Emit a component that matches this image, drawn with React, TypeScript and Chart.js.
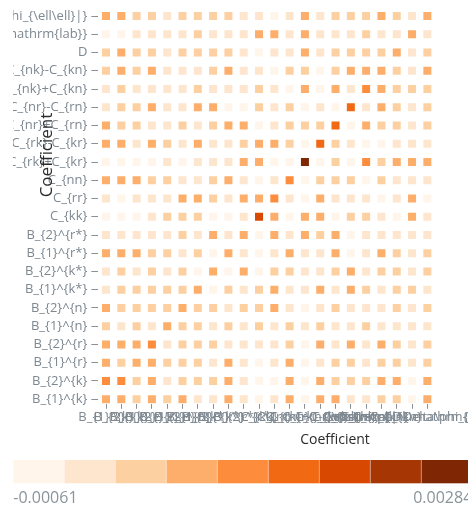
import React, { useEffect, useRef } from "react";
import { Chart, registerables } from "chart.js";

Chart.register(...registerables);

// Row labels, top to bottom
const yLabels: string[] = [
  "\\mathrm{|\\Delta\\phi_{\\ell\\ell}|}",
  "\\cos\\varphi^{\\mathrm{lab}}",
  "D",
  "C_{nk}-C_{kn}",
  "C_{nk}+C_{kn}",
  "C_{nr}-C_{rn}",
  "C_{nr}+C_{rn}",
  "C_{rk}-C_{kr}",
  "C_{rk}+C_{kr}",
  "C_{nn}",
  "C_{rr}",
  "C_{kk}",
  "B_{2}^{r*}",
  "B_{1}^{r*}",
  "B_{2}^{k*}",
  "B_{1}^{k*}",
  "B_{2}^{n}",
  "B_{1}^{n}",
  "B_{2}^{r}",
  "B_{1}^{r}",
  "B_{2}^{k}",
  "B_{1}^{k}",
];

// Column labels, left to right
const xLabels: string[] = [
  "B_{1}^{k}",
  "B_{2}^{k}",
  "B_{1}^{r}",
  "B_{2}^{r}",
  "B_{1}^{n}",
  "B_{2}^{n}",
  "B_{1}^{k*}",
  "B_{2}^{k*}",
  "B_{1}^{r*}",
  "B_{2}^{r*}",
  "C_{kk}",
  "C_{rr}",
  "C_{nn}",
  "C_{rk}+C_{kr}",
  "C_{rk}-C_{kr}",
  "C_{nr}+C_{rn}",
  "C_{nr}-C_{rn}",
  "C_{nk}+C_{kn}",
  "C_{nk}-C_{kn}",
  "D",
  "\\cos\\varphi^{\\mathrm{lab}}",
  "\\mathrm{|\\Delta\\phi_{\\ell\\ell}|}",
];

// Coefficient values, one row per y label (top to bottom), columns follow xLabels
const values: number[][] = [
  [0.0007,0.0007,0.0003,0.0003,0.0000,0.0003,0.0003,0.0003,0.0003,0.0000,0.0000,-0.0004,0.0000,0.0007,0.0000,0.0003,0.0003,0.0003,0.0007,0.0003,0.0000,0.0007],
  [-0.0004,-0.0004,0.0000,0.0000,0.0000,0.0000,0.0003,0.0000,0.0000,0.0000,0.0007,0.0007,0.0000,0.0007,0.0000,0.0000,0.0000,0.0003,0.0000,0.0000,0.0007,0.0000],
  [0.0003,0.0007,0.0003,0.0003,0.0000,0.0003,0.0003,0.0003,0.0003,0.0000,-0.0004,0.0000,0.0000,0.0007,0.0000,0.0003,0.0003,0.0003,0.0003,0.0007,0.0000,0.0003],
  [0.0003,0.0007,0.0003,0.0007,0.0000,0.0000,0.0000,0.0003,0.0007,0.0000,0.0000,-0.0004,0.0003,0.0003,-0.0004,0.0003,0.0007,0.0007,0.0007,0.0003,0.0000,0.0007],
  [0.0000,0.0003,0.0000,0.0000,0.0000,0.0000,0.0003,0.0000,0.0000,0.0000,0.0003,0.0000,-0.0004,0.0007,-0.0004,0.0007,0.0000,0.0011,0.0007,0.0003,0.0003,0.0003],
  [0.0000,0.0003,0.0003,0.0007,0.0000,0.0000,0.0007,0.0007,-0.0004,-0.0004,0.0003,0.0000,0.0003,-0.0004,0.0000,-0.0004,0.0015,0.0000,0.0007,0.0003,0.0000,0.0003],
  [0.0007,0.0003,0.0003,0.0000,0.0000,0.0003,0.0000,0.0003,0.0007,0.0007,-0.0004,0.0000,0.0003,0.0003,0.0003,0.0015,-0.0004,0.0007,0.0003,0.0003,0.0000,0.0003],
  [0.0007,0.0007,0.0000,0.0007,0.0003,0.0000,0.0007,0.0000,0.0000,0.0003,0.0007,0.0007,0.0003,-0.0004,0.0015,0.0003,0.0000,-0.0004,-0.0004,0.0000,0.0000,0.0000],
  [-0.00061,-0.0004,-0.0004,-0.0004,0.0000,-0.0004,0.0000,0.0000,0.0000,0.0007,0.0007,-0.0004,-0.0004,0.00284,-0.0004,0.0003,-0.0004,0.0011,0.0003,0.0007,0.0007,0.0007],
  [0.0007,0.0007,0.0007,0.0003,0.0003,0.0000,0.0000,0.0003,0.0007,0.0000,-0.0004,0.0000,0.0011,-0.0004,0.0003,0.0003,0.0003,-0.0004,0.0003,0.0000,0.0000,0.0000],
  [0.0000,-0.0004,0.0000,0.0000,0.0000,0.0007,0.0007,0.0003,0.0000,0.0007,0.0007,0.0011,0.0000,-0.0004,0.0007,0.0000,0.0000,0.0000,-0.0004,0.0000,0.0007,-0.0004],
  [-0.0004,-0.0004,-0.0004,0.0000,0.0003,0.0003,0.0003,-0.0004,-0.0004,0.0000,0.0019,0.0007,-0.0004,0.0007,0.0007,-0.0004,0.0003,0.0003,0.0000,-0.0004,0.0007,0.0000],
  [0.0000,0.0000,0.0000,0.0000,0.0000,0.0003,0.0000,0.0007,0.0000,0.0007,-0.0004,0.0007,0.0000,0.0007,0.0003,0.0007,-0.0004,0.0000,0.0000,0.0000,0.0000,0.0000],
  [0.0007,0.0007,0.0007,0.0003,0.0003,0.0000,0.0003,-0.0004,0.0007,0.0000,-0.0004,0.0000,0.0007,0.0000,0.0000,0.0007,-0.0004,0.0000,0.0007,0.0003,0.0000,0.0003],
  [0.0000,0.0003,0.0000,0.0003,0.0000,0.0003,-0.0004,0.0007,-0.0004,0.0007,-0.0004,0.0003,0.0003,0.0000,0.0000,0.0003,0.0007,0.0000,0.0003,0.0003,0.0000,0.0003],
  [0.0000,0.0003,0.0003,0.0003,0.0003,0.0003,0.0007,-0.0004,0.0003,0.0000,0.0003,0.0007,0.0000,0.0000,0.0007,0.0000,0.0007,0.0003,0.0000,0.0003,0.0003,0.0000],
  [0.0007,0.0003,0.0003,0.0003,0.0003,0.0007,0.0003,0.0003,0.0000,0.0003,0.0003,0.0007,0.0000,-0.0004,0.0000,0.0003,0.0000,0.0000,0.0000,0.0003,0.0000,0.0003],
  [0.0003,0.0000,0.0003,0.0000,0.0007,0.0003,0.0003,0.0000,0.0003,0.0000,0.0003,0.0000,0.0003,0.0000,0.0003,0.0000,0.0000,0.0003,0.0000,0.0000,0.0000,0.0000],
  [0.0007,0.0007,0.0007,0.0011,0.0000,0.0003,0.0003,0.0003,0.0000,0.0000,0.0000,0.0000,0.0003,-0.0004,0.0007,0.0000,0.0007,0.0000,0.0007,0.0003,0.0000,0.0003],
  [0.0007,0.0003,0.0007,0.0007,0.0003,0.0003,0.0003,0.0000,0.0007,0.0000,-0.0004,0.0000,0.0007,-0.0004,0.0000,0.0003,0.0003,0.0000,0.0003,0.0003,0.0000,0.0003],
  [0.0011,0.0011,0.0003,0.0007,0.0000,0.0003,0.0003,0.0003,0.0007,0.0000,-0.0004,-0.0004,0.0007,-0.0004,0.0007,0.0003,0.0003,0.0003,0.0007,0.0007,-0.0004,0.0007],
  [0.0007,0.0007,0.0003,0.0007,0.0003,0.0007,0.0000,0.0000,0.0007,0.0000,-0.0004,0.0000,0.0007,-0.0004,0.0007,0.0007,0.0000,0.0000,0.0003,0.0003,-0.0004,0.0007],
];

// Quantized colour scale (Oranges, 9 bins)
const legendColors: string[] = [
  "#fff5eb", "#fee6ce", "#fdd0a2", "#fdae6b", "#fd8d3c",
  "#f16913", "#d94801", "#a63603", "#7f2704",
];
const legendMin = -0.00061;
const legendMax = 0.00284;

const axisTitle = "Coefficient";

const FONT = "'Open Sans', 'Noto Sans', sans-serif";
const TICK_COLOR = "#7e8891";

function colorFor(v: number): string {
  const n = legendColors.length;
  let i = Math.floor(((v - legendMin) / (legendMax - legendMin)) * n);
  if (i < 0) i = 0;
  if (i > n - 1) i = n - 1;
  return legendColors[i];
}

const overlayPlugin = {
  id: "overlay",
  afterDraw(chart: any) {
    const ctx = chart.ctx as CanvasRenderingContext2D;
    ctx.save();
    // y-axis title
    ctx.fillStyle = "#2b2b2b";
    ctx.font = `17px ${FONT}`;
    ctx.textAlign = "center";
    ctx.textBaseline = "middle";
    ctx.save();
    ctx.translate(34.5, 155);
    ctx.rotate(-Math.PI / 2);
    ctx.fillText(axisTitle, 0, 0);
    ctx.restore();
    // x-axis title
    ctx.font = `14px ${FONT}`;
    ctx.fillText(axisTitle, 322, 440);

    // colour legend
    const x0 = 0.3;
    const bw = 51;
    const y0 = 460;
    const bh = 23.3;
    legendColors.forEach((c, i) => {
      ctx.fillStyle = c;
      ctx.fillRect(x0 + i * bw, y0, bw, bh);
      if (i > 0) {
        ctx.fillStyle = "rgba(255,255,255,0.35)";
        ctx.fillRect(x0 + i * bw - 0.5, y0, 1, bh);
      }
    });
    ctx.fillStyle = "#8a949b";
    ctx.font = `16px ${FONT}`;
    ctx.textBaseline = "middle";
    ctx.textAlign = "left";
    ctx.fillText(String(legendMin), x0, 498);
    ctx.textAlign = "right";
    ctx.fillText(String(legendMax), x0 + bw * legendColors.length, 498);
    ctx.restore();
  },
};

export default function App() {
  const ref = useRef<HTMLCanvasElement | null>(null);

  useEffect(() => {
    if (!ref.current) return;
    const points: { x: number; y: number; v: number }[] = [];
    values.forEach((row, r) => {
      row.forEach((v, c) => {
        points.push({ x: c, y: r, v });
      });
    });
    const chart = new Chart(ref.current, {
      type: "scatter",
      data: {
        datasets: [
          {
            data: points as any,
            pointStyle: "rect",
            pointRadius: 5.66,
            pointHoverRadius: 5.66,
            borderWidth: 0,
            backgroundColor: points.map((p) => colorFor(p.v)),
            borderColor: "rgba(0,0,0,0)",
          },
        ],
      },
      options: {
        animation: false,
        responsive: false,
        events: [],
        layout: { padding: { top: 6.9, right: 33, bottom: 0, left: 0 } },
        plugins: {
          legend: { display: false },
          tooltip: { enabled: false },
          title: { display: false },
        },
        scales: {
          x: {
            type: "linear",
            min: -0.5,
            max: 21.5,
            afterBuildTicks: (axis: any) => {
              axis.ticks = xLabels.map((_, i) => ({ value: i }));
            },
            afterFit: (s: any) => {
              s.height = 105.2;
              s.paddingLeft = 0;
              s.paddingRight = 0;
            },
            ticks: {
              autoSkip: false,
              maxRotation: 0,
              minRotation: 0,
              padding: 1,
              color: TICK_COLOR,
              font: { family: FONT, size: 13 },
              callback: (v: any) => xLabels[v as number],
            },
            grid: {
              display: true,
              drawOnChartArea: false,
              drawTicks: true,
              tickLength: 5,
              color: "#8a8f94",
            },
            border: { display: false },
          },
          y: {
            type: "linear",
            reverse: true,
            min: -0.5,
            max: 21.25,
            afterBuildTicks: (axis: any) => {
              axis.ticks = yLabels.map((_, i) => ({ value: i }));
            },
            afterFit: (s: any) => {
              s.width = 85.35;
              s.paddingTop = 0;
              s.paddingBottom = 0;
            },
            ticks: {
              autoSkip: false,
              padding: 4,
              color: TICK_COLOR,
              font: { family: FONT, size: 13 },
              callback: (v: any) => yLabels[v as number],
            },
            grid: {
              display: true,
              drawOnChartArea: false,
              drawTicks: true,
              tickLength: 7,
              color: "#8a8f94",
            },
            border: { display: false },
          },
        },
      },
      plugins: [overlayPlugin],
    });
    return () => chart.destroy();
  }, []);

  return (
    <div
      style={{
        position: "absolute",
        left: 13,
        top: 0,
        width: 455,
        height: 509,
        overflow: "hidden",
        background: "#fff",
      }}
    >
      <canvas ref={ref} width={455} height={509} style={{ display: "block" }} />
    </div>
  );
}
